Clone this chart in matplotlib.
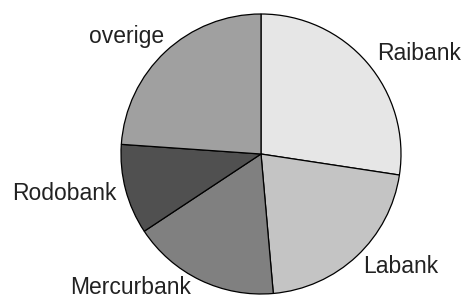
import matplotlib
matplotlib.use('Agg')
from matplotlib import pyplot as plt

# market share per bank (percent)
labels = ['Raibank', 'Labank', 'Mercurbank', 'Rodobank', 'overige']
shares = [27.4, 21.2, 17.1, 10.4, 23.9]
colors = ['#e6e6e6', '#c4c4c4', '#808080', '#505050', '#a0a0a0']

plt.rcParams['font.family'] = ['Liberation Sans', 'DejaVu Sans']

fig = plt.figure(figsize=(4.66, 2.98), dpi=100)
# axes placed so the pie sits at the same spot as the reference
ax = fig.add_axes([121/466, 4/298, 280/466, 280/298])

wedges, texts = ax.pie(shares, labels=labels, colors=colors,
                       startangle=90, counterclock=False,
                       labeldistance=1.1,
                       wedgeprops=dict(edgecolor='black', linewidth=0.9),
                       textprops=dict(fontsize=16.5, color='#222222'))

# small nudges of the labels (pixels), pie radius is 140 px
nudge = [(-1, 0), (-3, 0), (-3, 5), (4, 0), (8, 5)]
for t, (dx, dy) in zip(texts, nudge):
    x, y = t.get_position()
    t.set_position((x + dx / 140, y + dy / 140))

ax.set_xlim(-1, 1)
ax.set_ylim(-1, 1)
ax.set_aspect('equal')
ax.axis('off')

fig.savefig('out.png', dpi=100, facecolor='white')
